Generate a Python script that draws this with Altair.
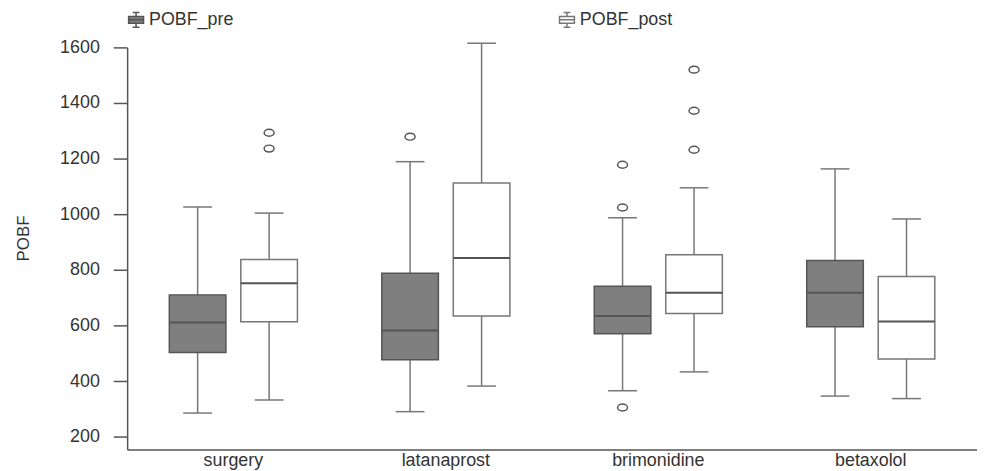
import altair as alt
import pandas as pd

categories = ["surgery", "latanaprost", "brimonidine", "betaxolol"]
series = ["POBF_pre", "POBF_post"]

pre_low = [285, 290, 365, 346]
pre_q1 = [503, 477, 570, 595]
pre_med = [611, 582, 634, 718]
pre_q3 = [710, 788, 741, 834]
pre_high = [1026, 1189, 987, 1163]

post_low = [332, 382, 433, 337]
post_q1 = [613, 634, 643, 479]
post_med = [752, 843, 718, 614]
post_q3 = [837, 1112, 854, 776]
post_high = [1004, 1615, 1095, 983]

out_cat = ["surgery", "surgery", "latanaprost", "brimonidine", "brimonidine",
           "brimonidine", "brimonidine", "brimonidine", "brimonidine"]
out_series = ["POBF_post", "POBF_post", "POBF_pre", "POBF_pre", "POBF_pre",
              "POBF_pre", "POBF_post", "POBF_post", "POBF_post"]
out_val = [1293, 1236, 1279, 1178, 1024, 305, 1520, 1372, 1232]

y_ticks = [200, 400, 600, 800, 1000, 1200, 1400, 1600]

rows = []
for i, c in enumerate(categories):
    rows.append(dict(category=c, series="POBF_pre", low=pre_low[i], q1=pre_q1[i],
                     med=pre_med[i], q3=pre_q3[i], high=pre_high[i]))
    rows.append(dict(category=c, series="POBF_post", low=post_low[i], q1=post_q1[i],
                     med=post_med[i], q3=post_q3[i], high=post_high[i]))
df = pd.DataFrame(rows)
df_out = pd.DataFrame(dict(category=out_cat, series=out_series, value=out_val))

FONT = "Liberation Sans"

x_enc = alt.X("category:N", scale=alt.Scale(domain=categories, paddingInner=0, paddingOuter=0),
              axis=alt.Axis(title=None, labelAngle=0, ticks=False, labelPadding=2,
                            labelFontSize=18, labelFont=FONT, labelColor="#333"))
xo_enc = alt.XOffset("series:N", scale=alt.Scale(domain=series, paddingInner=0.2083, paddingOuter=0.59))
y_scale = alt.Scale(domain=[154, 1600], nice=False, zero=False)
y_axis = alt.Axis(values=y_ticks, format="d", tickSize=14, labelPadding=14, labelFontSize=18,
                  labelFont=FONT, labelColor="#333", titleFontSize=17, titleFont=FONT,
                  titleFontWeight="normal", titleColor="#333", titleX=-95, titleY=192,
                  titleAngle=-90, grid=False)

base = alt.Chart(df).encode(x=x_enc, xOffset=xo_enc)

whisk = base.mark_rule(color="#777", strokeWidth=1.5).encode(
    y=alt.Y("low:Q", scale=y_scale, axis=y_axis, title="POBF"), y2="high:Q")

box_glyph = ("M-0.45,-1H0.45M0,-1V-0.45M-1,-0.45H1V0.45H-1ZM-1,0H1"
             "M0,0.45V1M-0.45,1H0.45")

box = base.mark_bar(strokeWidth=1.5).encode(
    y=alt.Y("q1:Q", scale=y_scale, axis=y_axis, title="POBF"), y2="q3:Q",
    fill=alt.Fill("series:N", scale=alt.Scale(domain=series, range=["#7f7f7f", "#ffffff"]),
                  legend=alt.Legend(title=None, orient="none", legendX=0, legendY=-37,
                                    direction="horizontal", columnPadding=324,
                                    symbolType=box_glyph, symbolSize=225,
                                    symbolStrokeColor="#555", symbolStrokeWidth=1.5,
                                    labelOffset=4, labelFontSize=18, labelFont=FONT,
                                    labelColor="#333", padding=0)),
    stroke=alt.Stroke("series:N", scale=alt.Scale(domain=series, range=["#555555", "#777777"]),
                      legend=None))

med = base.mark_tick(color="#555", thickness=2, size=57, opacity=1).encode(
    y=alt.Y("med:Q", scale=y_scale, axis=y_axis, title="POBF"))

cap_lo = base.mark_tick(color="#777", thickness=1.5, size=29, opacity=1).encode(
    y=alt.Y("low:Q", scale=y_scale, axis=y_axis, title="POBF"))
cap_hi = base.mark_tick(color="#777", thickness=1.5, size=29, opacity=1).encode(
    y=alt.Y("high:Q", scale=y_scale, axis=y_axis, title="POBF"))

ellipse = "M-1,0A1,0.7,0,1,1,1,0A1,0.7,0,1,1,-1,0Z"
outl = alt.Chart(df_out).mark_point(shape=ellipse, size=100, filled=False, stroke="#555",
                                    strokeWidth=1.5, opacity=1).encode(
    x=x_enc, xOffset=xo_enc,
    y=alt.Y("value:Q", scale=y_scale, axis=y_axis, title="POBF"))

chart = alt.layer(whisk, box, med, cap_lo, cap_hi, outl).properties(
    width=856, height=405,
    autosize=alt.AutoSizeParams(type="none"),
    padding={"left": 120, "top": 38, "right": 0, "bottom": 19},
    background="white",
).configure_view(strokeWidth=0).configure_axis(
    domainColor="#555", domainWidth=1.5, tickColor="#555", tickWidth=1.5,
)

chart.save("out.html", embed_options={"renderer": "svg", "actions": False})
